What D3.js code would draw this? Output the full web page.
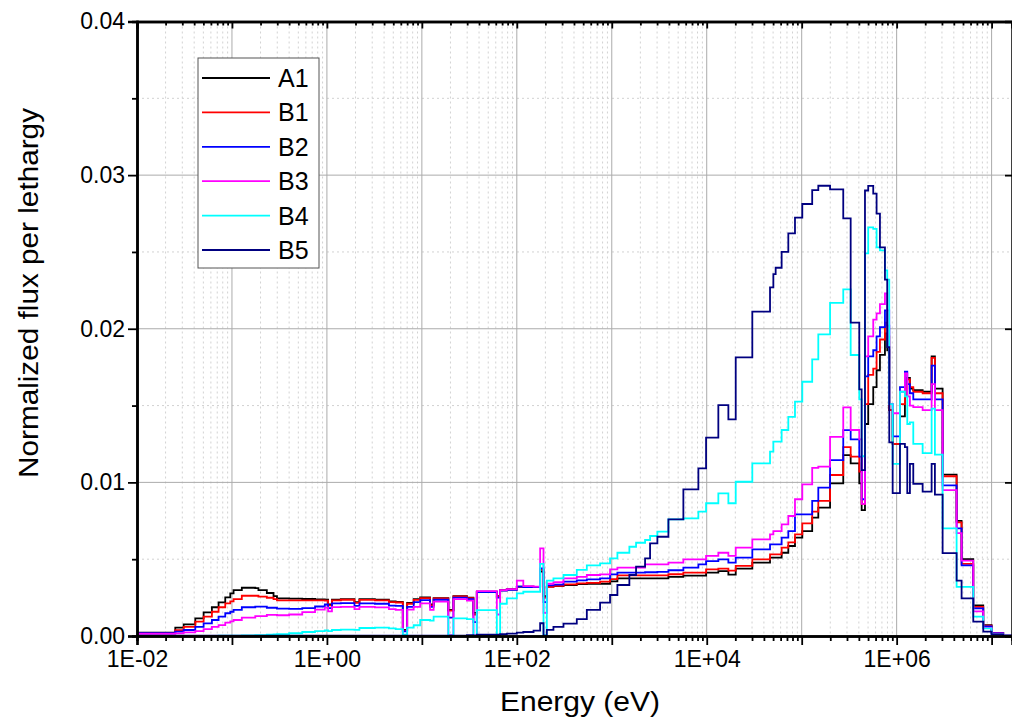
<!DOCTYPE html>
<html lang="en">
<head>
<meta charset="UTF-8">
<title>Normalized flux per lethargy</title>
<script src="https://d3js.org/d3.v7.min.js"></script>
<style>
    body, html {
        margin: 0;
        padding: 0;
        overflow: hidden;
        background: #fff;
    }
    svg { display: block; }
    text { font-family: "Liberation Sans", Arial, sans-serif; fill: #000; }
    .grid-major { stroke: #ababab; stroke-width: 1; }
    .grid-minor { stroke: #d2d2d2; stroke-width: 1; stroke-dasharray: 2,3; }
    .series { fill: none; stroke-width: 1.8; }
</style>
</head>
<body>
<svg width="1012" height="719"></svg>

<script>
// group boundaries (eV)
const energyEdges = [
    0.01, 0.0253, 0.031, 0.0411, 0.0503, 0.0615, 0.0723, 0.085, 0.096, 0.104,
    0.127, 0.176, 0.19, 0.233, 0.274, 0.298, 0.4, 0.55, 0.75, 0.95,
    1.03, 1.13, 1.4, 1.95, 2.2, 3.2, 4.5, 5.3, 6.3, 7.0,
    8.2, 9.6, 12.2, 13.3, 19.0, 21.5, 29.8, 34.9, 37.9, 61.6,
    66.7, 78.4, 100, 117, 150, 176, 191, 207, 243, 310,
    428, 546, 753, 959, 1146, 1532, 1802, 2242, 2531, 3022,
    3948, 5675, 8165, 9841, 13250, 16900, 20200, 30200, 46400, 50300,
    53200, 61500, 72300, 85000, 101500, 129000, 149600, 199000, 274000, 328000,
    404000, 428000, 464000, 502000, 567000, 615000, 667000, 753000, 796000, 836000,
    908000, 1084000, 1222000, 1294000, 1380000, 1497000, 1878000, 2335000, 2529000, 3049000,
    4281000, 4830000, 6411000, 8170000, 1.0e7, 1.325e7, 1.7e7
];

// flux per lethargy in each group (one value per group)
const fluxA1 = [
    0.00022, 0.00054, 0.00076, 0.00115, 0.00154, 0.00187, 0.00219, 0.00252, 0.00278, 0.00299,
    0.00314, 0.00311, 0.00299, 0.0028, 0.0026, 0.00245, 0.00243, 0.00241, 0.00239, 0.00236,
    0.00205, 0.00236, 0.0024, 0.0022, 0.0024, 0.00236, 0.00225, 0.00222, 0.0004, 0.00215,
    0.0024, 0.00251, 0.00205, 0.00247, 0.0017, 0.0026, 0.0025, 0.0015, 0.00288, 0.0026,
    0.00299, 0.00305, 0.00321, 0.00321, 0.0032, 0.0042, 0.0026, 0.00322, 0.00325, 0.00332,
    0.00338, 0.0034, 0.0034, 0.00355, 0.00375, 0.00375, 0.00375, 0.00375, 0.00375, 0.00375,
    0.00385, 0.00393, 0.00393, 0.00412, 0.00422, 0.004, 0.00438, 0.00477, 0.0051, 0.0051,
    0.0051, 0.00542, 0.00586, 0.0064, 0.00683, 0.0077, 0.00835, 0.00994, 0.01177, 0.01124,
    0.00994, 0.0082, 0.0138, 0.0151, 0.0162, 0.0173, 0.0183, 0.0197, 0.0186, 0.0147,
    0.0125, 0.0143, 0.0156, 0.0168, 0.0161, 0.016, 0.0159, 0.0182, 0.0161, 0.0105,
    0.0075, 0.005, 0.002, 0.0007, 0.0002, 0.00003
];
const fluxB1 = [
    0.0002, 0.00038, 0.0006, 0.00093, 0.00126, 0.00158, 0.00187, 0.00213, 0.00225, 0.0024,
    0.00262, 0.00262, 0.00256, 0.00249, 0.0024, 0.00232, 0.00232, 0.00232, 0.00232, 0.0023,
    0.002, 0.00232, 0.00236, 0.00216, 0.00235, 0.00232, 0.0022, 0.00218, 0.00035, 0.0021,
    0.00235, 0.00246, 0.002, 0.00244, 0.00165, 0.00257, 0.00247, 0.0014, 0.00286, 0.00258,
    0.00297, 0.00302, 0.0032, 0.0032, 0.00319, 0.0043, 0.0025, 0.0032, 0.00327, 0.00336,
    0.00342, 0.00346, 0.00354, 0.0037, 0.00395, 0.00395, 0.00395, 0.00395, 0.00395, 0.00395,
    0.00402, 0.00412, 0.00412, 0.00434, 0.00438, 0.00425, 0.00456, 0.00499, 0.00531, 0.00531,
    0.00531, 0.00575, 0.0061, 0.00662, 0.00733, 0.00809, 0.00879, 0.01048, 0.0123, 0.01167,
    0.0107, 0.0086, 0.0151, 0.017, 0.0174, 0.0185, 0.0193, 0.0204, 0.0195, 0.0147,
    0.0125, 0.0151, 0.0161, 0.0167, 0.0162, 0.0159, 0.0158, 0.0181, 0.0158, 0.0104,
    0.0074, 0.0047, 0.0019, 0.00068, 0.0002, 0.00003
];
const fluxB2 = [
    0.00018, 0.00028, 0.00039, 0.0006, 0.00082, 0.00104, 0.00126, 0.00148, 0.00158, 0.0017,
    0.00187, 0.00191, 0.00191, 0.00184, 0.00184, 0.00178, 0.00176, 0.00182, 0.00192, 0.00205,
    0.00182, 0.00212, 0.00214, 0.00196, 0.00212, 0.0021, 0.00198, 0.00196, 0.0003, 0.0019,
    0.0022, 0.00234, 0.0019, 0.00236, 0.0012, 0.0025, 0.0024, 0.0009, 0.00286, 0.0025,
    0.00296, 0.003, 0.00322, 0.00318, 0.00318, 0.0044, 0.0022, 0.0033, 0.00335, 0.00354,
    0.00362, 0.00369, 0.00375, 0.00401, 0.00412, 0.00412, 0.00412, 0.00415, 0.00415, 0.00418,
    0.00428, 0.00445, 0.00466, 0.00488, 0.00499, 0.00477, 0.0051, 0.00564, 0.00597, 0.00597,
    0.00597, 0.0064, 0.00683, 0.00792, 0.00792, 0.00879, 0.00966, 0.01145, 0.0134, 0.0128,
    0.01167, 0.0089, 0.0169, 0.0182, 0.0186, 0.0195, 0.0201, 0.0212, 0.0202, 0.0151,
    0.013, 0.0162, 0.0172, 0.0164, 0.0158, 0.0154, 0.0154, 0.0176, 0.0154, 0.0098,
    0.007, 0.0046, 0.0018, 0.00062, 0.00018, 0.00003
];
const fluxB3 = [
    0.00014, 0.00017, 0.00024, 0.00032, 0.00045, 0.0006, 0.00071, 0.00087, 0.00095, 0.00104,
    0.00119, 0.0013, 0.0013, 0.00137, 0.00137, 0.00135, 0.0014, 0.00155, 0.00172, 0.00185,
    0.0016, 0.00188, 0.0019, 0.00175, 0.0019, 0.00186, 0.00175, 0.0017, 0.00005, 0.00172,
    0.0019, 0.00213, 0.0017, 0.00224, 0.00006, 0.0024, 0.0023, 0.00006, 0.00292, 0.0014,
    0.00298, 0.00305, 0.0036, 0.00325, 0.00322, 0.0057, 0.0015, 0.0034, 0.0035, 0.00375,
    0.00385, 0.00397, 0.00401, 0.00434, 0.00445, 0.00445, 0.00445, 0.00466, 0.00466, 0.00466,
    0.00477, 0.00499, 0.00499, 0.00521, 0.00542, 0.00521, 0.00575, 0.00629, 0.00662, 0.00683,
    0.00683, 0.00727, 0.00781, 0.0089, 0.00987, 0.01095, 0.01103, 0.01296, 0.01488, 0.01341,
    0.0128, 0.0086, 0.0182, 0.0195, 0.0206, 0.021, 0.0216, 0.0223, 0.0212, 0.0151,
    0.0145, 0.0159, 0.0171, 0.0156, 0.015, 0.0149, 0.0147, 0.0164, 0.0147, 0.0095,
    0.0067, 0.0049, 0.0016, 0.00052, 0.00015, 0.00003
];
const fluxB4 = [
    0.00001, 0.00001, 0.00001, 0.00001, 0.00001, 0.00001, 0.00002, 0.00002, 0.00002, 0.00003,
    0.00004, 0.00005, 0.00006, 0.00008, 0.0001, 0.00012, 0.00018, 0.00026, 0.00032, 0.00037,
    0.00032, 0.00039, 0.00042, 0.0004, 0.00052, 0.00054, 0.0005, 0.00045, 0.00008, 0.00055,
    0.0007, 0.00104, 0.001, 0.00126, 0.00003, 0.00115, 0.0011, 0.00003, 0.00169, 0.00005,
    0.0021, 0.00245, 0.00278, 0.00288, 0.00288, 0.0047, 0.00005, 0.0036, 0.00375, 0.00397,
    0.0043, 0.0046, 0.00473, 0.00505, 0.00542, 0.00581, 0.00607, 0.00625, 0.00651, 0.00679,
    0.00759, 0.00766, 0.00809, 0.00864, 0.00929, 0.00864, 0.01004, 0.01124, 0.012, 0.01265,
    0.01265, 0.01341, 0.01427, 0.01525, 0.01655, 0.01801, 0.01963, 0.02169, 0.02256, 0.01829,
    0.0154, 0.0117, 0.0249, 0.0266, 0.0265, 0.0253, 0.0251, 0.0238, 0.0232, 0.0151,
    0.0112, 0.0159, 0.0156, 0.0138, 0.0139, 0.0125, 0.0119, 0.0148, 0.0118, 0.007,
    0.0032, 0.0032, 0.00126, 0.0005, 0.0001, 0.00003
];
const fluxB5 = [
    0.00002, 0.00002, 0.00002, 0.00002, 0.00002, 0.00002, 0.00002, 0.00002, 0.00002, 0.00002,
    0.00002, 0.00002, 0.00002, 0.00002, 0.00002, 0.00002, 0.00002, 0.00002, 0.00002, 0.00002,
    0.00002, 0.00002, 0.00002, 0.00002, 0.00002, 0.00002, 0.00002, 0.00002, 0.00002, 0.00002,
    0.00002, 0.00002, 0.00002, 0.00002, 0.00002, 0.00003, 0.00005, 0.00003, 0.00008, 0.00008,
    0.00012, 0.00015, 0.00022, 0.00026, 0.00035, 0.00083, 0.00002, 0.0004, 0.0006, 0.0008,
    0.0011, 0.0017, 0.00217, 0.00267, 0.00332, 0.00397, 0.00451, 0.00505, 0.00603, 0.00646,
    0.00759, 0.00955, 0.01091, 0.01291, 0.01503, 0.0141, 0.01814, 0.02111, 0.02269, 0.02356,
    0.02397, 0.02501, 0.02621, 0.02723, 0.02812, 0.02903, 0.02931, 0.02907, 0.02719, 0.0204,
    0.01606, 0.0108, 0.029, 0.0293, 0.0288, 0.0275, 0.0253, 0.0232, 0.0188, 0.0126,
    0.0093, 0.0125, 0.0123, 0.0093, 0.0112, 0.0099, 0.0094, 0.0112, 0.0092, 0.0054,
    0.0036, 0.00245, 0.00093, 0.00028, 0.0001, 0.00003
];

const seriesNames = ["A1", "B1", "B2", "B3", "B4", "B5"];
const seriesColors = ["#000000", "#ff0000", "#0000ff", "#ff00ff", "#00ffff", "#000080"];
const seriesValues = [fluxA1, fluxB1, fluxB2, fluxB3, fluxB4, fluxB5];

const yMajorTicks = [0, 0.01, 0.02, 0.03, 0.04];
const yMinorTicks = [0.005, 0.015, 0.025, 0.035];

const svg = d3.select("svg");
const plotLeft = 137, plotRight = 1012, plotTop = 21.5, plotBottom = 636;

const x = d3.scaleLog().domain([0.01, 1.64e7]).range([plotLeft, plotRight]);
const y = d3.scaleLinear().domain([0, 0.04]).range([plotBottom, plotTop]);

// decade and sub-decade tick values
const xMajor = d3.range(-2, 8).map(e => Math.pow(10, e));
const xMinor = [];
for (let e = -2; e <= 7; e++) {
    for (let k = 2; k <= 9; k++) {
        const v = k * Math.pow(10, e);
        if (v < 1.64e7) xMinor.push(v);
    }
}

// grid
const grid = svg.append("g");
grid.selectAll(".vminor").data(xMinor).enter().append("line")
    .attr("class", "grid-minor")
    .attr("x1", d => x(d)).attr("x2", d => x(d))
    .attr("y1", plotTop).attr("y2", plotBottom);
grid.selectAll(".hminor").data(yMinorTicks).enter().append("line")
    .attr("class", "grid-minor")
    .attr("x1", plotLeft).attr("x2", plotRight)
    .attr("y1", d => y(d)).attr("y2", d => y(d));
grid.selectAll(".vmajor").data(xMajor.slice(1)).enter().append("line")
    .attr("class", "grid-major")
    .attr("x1", d => x(d)).attr("x2", d => x(d))
    .attr("y1", plotTop).attr("y2", plotBottom);
grid.selectAll(".hmajor").data([0.01, 0.02, 0.03]).enter().append("line")
    .attr("class", "grid-major")
    .attr("x1", plotLeft).attr("x2", plotRight)
    .attr("y1", d => y(d)).attr("y2", d => y(d));

// step curves
svg.append("clipPath").attr("id", "plot-clip")
    .append("rect").attr("x", plotLeft).attr("y", plotTop)
    .attr("width", plotRight - plotLeft).attr("height", plotBottom - plotTop);

const line = d3.line()
    .x(d => x(d[0]))
    .y(d => y(d[1]))
    .curve(d3.curveStepAfter);

const curves = svg.append("g").attr("clip-path", "url(#plot-clip)");
seriesValues.forEach((vals, i) => {
    const pts = vals.map((v, j) => [energyEdges[j], v]);
    pts.push([energyEdges[vals.length], vals[vals.length - 1]]);
    curves.append("path")
        .datum(pts)
        .attr("class", "series")
        .attr("stroke", seriesColors[i])
        .attr("d", line);
});

// axes
const fmtE = d => {
    const e = Math.round(Math.log10(d));
    if (e % 2 !== 0) return "";
    return "1E" + (e < 0 ? "-" : "+") + String(Math.abs(e)).padStart(2, "0");
};

function styleAxis(g) {
    g.select(".domain").attr("stroke", "#000").attr("stroke-width", 2.5);
    g.selectAll(".tick line").attr("stroke", "#000").attr("stroke-width", 1.8);
    g.selectAll("text").attr("font-size", 23).attr("font-family", "Liberation Sans, Arial, sans-serif");
}

svg.append("g").attr("transform", `translate(0,${plotBottom})`)
    .call(d3.axisBottom(x).tickValues(xMinor).tickSize(5).tickFormat(""))
    .call(styleAxis);
svg.append("g").attr("transform", `translate(0,${plotBottom})`)
    .call(d3.axisBottom(x).tickValues(xMajor).tickSize(9).tickPadding(6).tickFormat(fmtE))
    .call(styleAxis);

svg.append("g").attr("transform", `translate(0,${plotTop})`)
    .call(d3.axisBottom(x).tickValues(xMinor).tickSize(4).tickFormat(""))
    .call(styleAxis);
svg.append("g").attr("transform", `translate(0,${plotTop})`)
    .call(d3.axisBottom(x).tickValues(xMajor).tickSize(7).tickFormat(""))
    .call(styleAxis);

svg.append("g").attr("transform", `translate(${plotLeft},0)`)
    .call(d3.axisLeft(y).tickValues(yMinorTicks).tickSize(5).tickFormat(""))
    .call(styleAxis);
svg.append("g").attr("transform", `translate(${plotLeft},0)`)
    .call(d3.axisLeft(y).tickValues(yMajorTicks).tickSize(9).tickPadding(3).tickFormat(d3.format(".2f")))
    .call(styleAxis);

svg.append("g").attr("transform", `translate(${plotRight},0)`)
    .call(d3.axisRight(y).tickValues(yMajorTicks).tickSize(-7).tickFormat(""))
    .call(styleAxis);

// axis titles
svg.append("text")
    .attr("x", 580).attr("y", 711)
    .attr("text-anchor", "middle")
    .attr("font-size", 28)
    .attr("textLength", 160).attr("lengthAdjust", "spacingAndGlyphs")
    .text("Energy (eV)");

svg.append("text")
    .attr("transform", "translate(38,293) rotate(-90)")
    .attr("text-anchor", "middle")
    .attr("font-size", 27)
    .attr("textLength", 370).attr("lengthAdjust", "spacingAndGlyphs")
    .text("Normalized flux per lethargy");

// legend
const legend = svg.append("g");
legend.append("rect")
    .attr("x", 198).attr("y", 58).attr("width", 121).attr("height", 210)
    .attr("fill", "#fff").attr("stroke", "#555").attr("stroke-width", 1);

const rowY = d3.scalePoint().domain(seriesNames).range([78, 250]);
seriesNames.forEach((name, i) => {
    legend.append("line")
        .attr("x1", 202).attr("x2", 270)
        .attr("y1", rowY(name)).attr("y2", rowY(name))
        .attr("stroke", seriesColors[i]).attr("stroke-width", 1.8);
    legend.append("text")
        .attr("x", 278).attr("y", rowY(name))
        .attr("dy", "0.36em")
        .attr("font-size", 25)
        .text(name);
});
</script>
</body>
</html>
